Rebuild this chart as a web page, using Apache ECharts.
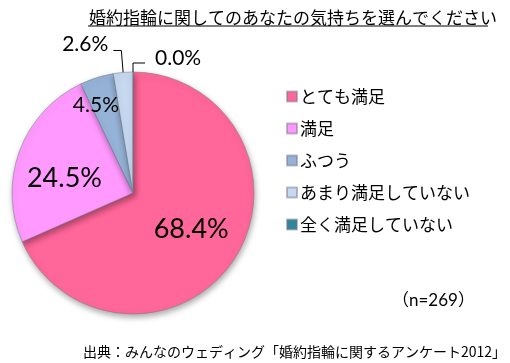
<!DOCTYPE html>
<html><head><meta charset="utf-8">
<script src="https://cdn.jsdelivr.net/npm/echarts@6/dist/echarts.min.js"></script>
<style>html,body{margin:0;padding:0;background:#fff}#c{width:510px;height:363px}</style>
</head><body><div id="c"></div>
<script>
const titleText = '婚約指輪に関してのあなたの気持ちを選んでください';
const categories = ['とても満足', '満足', 'ふつう', 'あまり満足していない', '全く満足していない'];
const values = [68.4, 24.5, 4.5, 2.6, 0.0];
const colors = ['#FF6699', '#FF99FF', '#95B3D7', '#C6D9F1', '#31859C'];
const sampleNote = '（n=269）';
const sourceNote = '出典：みんなのウェディング「婚約指輪に関するアンケート2012」';

const numFont = 'Lato, "Noto Sans CJK JP", sans-serif';
const jpFont = '"Noto Sans CJK JP", sans-serif';

const labelCfg = [
  {position: 'inside', fontSize: 27},
  {position: 'inside', fontSize: 27},
  {position: 'inside', fontSize: 21},
  {position: 'outside', fontSize: 21},
  {position: 'outside', fontSize: 21}
];
const lineCfg = [null, null, null, {length: 22, length2: 8}, {length: 9, length2: 12}];

const chart = echarts.init(document.getElementById('c'));
chart.setOption({
  animation: false,
  title: [
    {text: titleText, left: 288, top: 4, textAlign: 'center',
     textStyle: {fontFamily: jpFont, fontSize: 17, fontWeight: 'normal', color: '#000'}},
    {text: sampleNote, left: 387, top: 287,
     textStyle: {fontFamily: numFont, fontSize: 17, fontWeight: 'normal', color: '#000'}},
    {text: sourceNote, left: 78, top: 340,
     textStyle: {fontFamily: jpFont, fontSize: 14, fontWeight: 'normal', color: '#000'}}
  ],
  graphic: [{type: 'line', shape: {x1: 88, y1: 26, x2: 488, y2: 26}, style: {stroke: '#000', lineWidth: 1}}],
  legend: {
    orient: 'vertical', left: 281, top: 83, icon: 'rect', itemWidth: 10, itemHeight: 10,
    itemGap: 15,
    textStyle: {fontFamily: jpFont, fontSize: 17, color: '#000', padding: [0, 0, 0, -2]},
    data: categories
  },
  series: [{
    type: 'pie',
    center: [133, 193],
    radius: 121,
    startAngle: 90,
    clockwise: true,
    avoidLabelOverlap: false,
    stillShowZeroSum: true,
    itemStyle: {borderColor: 'rgba(120,120,140,0.5)', borderWidth: 1,
      shadowBlur: 6, shadowColor: 'rgba(0,0,0,0.35)', shadowOffsetX: 1, shadowOffsetY: 3},
    labelLine: {lineStyle: {color: '#000', width: 1}},
    labelLayout: function (p) {
      const adj = [[5, 2], [-9, 7], [-18, -27], [0, -6], [5, -5]];
      const a = adj[p.dataIndex];
      return {dx: a[0], dy: a[1]};
    },
    data: categories.map((name, i) => ({
      name: name,
      value: values[i],
      itemStyle: {color: colors[i]},
      label: {show: true, position: labelCfg[i].position, fontSize: labelCfg[i].fontSize,
        fontFamily: numFont, color: '#000', formatter: v => v.value.toFixed(1) + '%'},
      labelLine: lineCfg[i] ? Object.assign({show: true}, lineCfg[i]) : {show: false}
    }))
  }]
});
</script></body></html>
